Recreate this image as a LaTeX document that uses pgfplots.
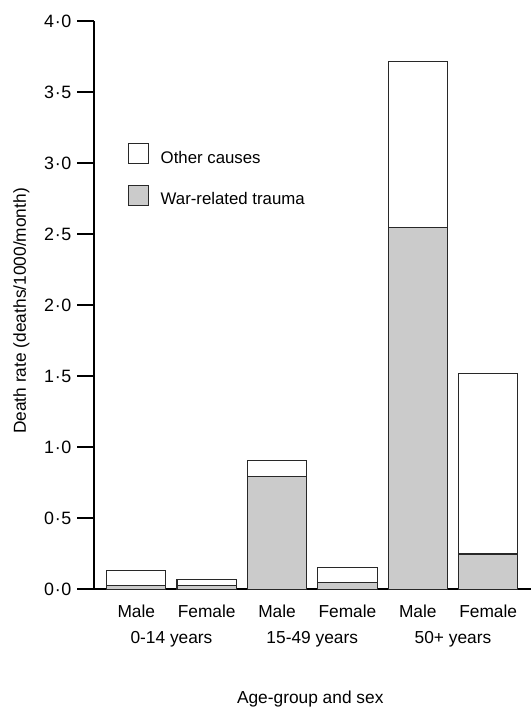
\documentclass[border=0pt]{standalone}
\usepackage{fontspec}
\setmainfont{Liberation Sans}
\usepackage{pgfplots}
\pgfplotsset{compat=1.18}
\definecolor{wargray}{RGB}{203,203,203}
\definecolor{edge}{RGB}{40,40,40}
\newcommand{\md}{\kern0.5pt·\kern0.5pt}
\begin{document}
\begin{tikzpicture}
\begin{axis}[
  name=ax,
  scale only axis,
  width=327.5pt, height=426pt,
  xmin=-0.597, xmax=5.607,
  ymin=0, ymax=4,
  axis lines=left,
  axis line style={-, line width=1.5pt, black},
  ybar stacked,
  bar width=44.5pt,
  xtick={0,1,2,3,4,5},
  xticklabels={Male,Female,Male,Female,Male,Female},
  xtick align=inside,
  x tick style={draw=none},
  x tick label style={anchor=base, yshift=-21pt, inner sep=0pt, font=\fontsize{13}{15}\selectfont},
  extra x ticks={0.5,2.5,4.5},
  extra x tick labels={0-14 years,15-49 years,50+ years},
  extra x tick style={x tick label style={yshift=-19.5pt}},
  ytick={0,0.5,1,1.5,2,2.5,3,3.5,4},
  yticklabels={0\md0,0\md5,1\md0,1\md5,2\md0,2\md5,3\md0,3\md5,4\md0},
  ytick align=outside,
  major tick length=12.75pt,
  y tick style={line width=1.5pt, black},
  y tick label style={anchor=east, inner sep=0pt, xshift=-4.2pt, font=\fontsize{13.4}{15}\selectfont},
  xlabel={Age-group and sex},
  xlabel style={at={([yshift=-85.5pt]axis description cs:0.4946,0)}, anchor=base, inner sep=0pt, font=\fontsize{13}{15}\selectfont},
  ylabel={Death rate (deaths/1000/month)},
  ylabel style={at={([xshift=-51.2pt]axis description cs:0,0.49)}, anchor=base, inner sep=0pt, font=\fontsize{13}{15}\selectfont},
  reverse legend,
  legend cell align=left,
  legend style={at={(axis description cs:0.0779,0.7852)}, anchor=north west, draw=none, fill=none,
    inner sep=0pt, outer sep=0pt, row sep=13.8pt, column sep=8.5pt,
    nodes={inner sep=0pt, text height=9pt, text depth=2.5pt},
    font=\fontsize{12.6}{15}\selectfont},
  mylegend/.style={legend image code/.code={\draw[##1, line width=0.8pt] (0pt,-3.75pt) rectangle (15pt,11.25pt);}},
]
\addplot[fill=wargray, draw=edge, line width=0.8pt, mylegend] coordinates {(0,0.028) (1,0.028) (2,0.793) (3,0.051) (4,2.549) (5,0.249)};
\addlegendentry{War-related trauma}
\addplot[fill=white, draw=edge, line width=0.8pt, mylegend] coordinates {(0,0.103) (1,0.040) (2,0.113) (3,0.106) (4,1.171) (5,1.269)};
\addlegendentry{Other causes}
\end{axis}
\pgfresetboundingbox
\path ([xshift=-70.7pt,yshift=-89pt]ax.south west) rectangle ([yshift=16pt]ax.north east);
\end{tikzpicture}
\end{document}
